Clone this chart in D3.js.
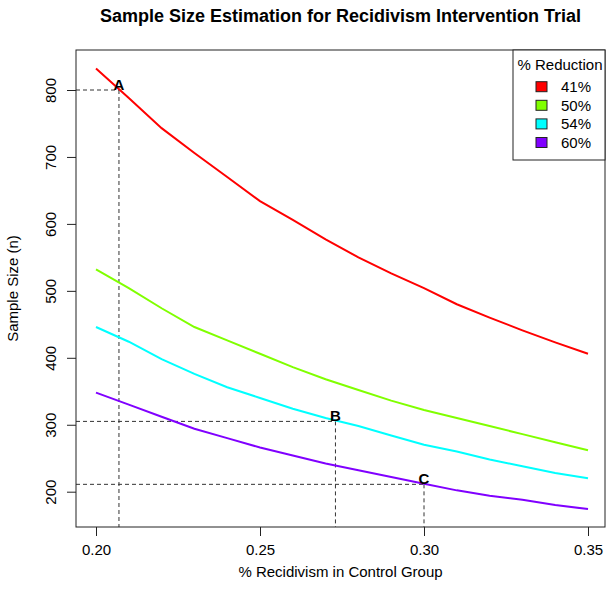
<!DOCTYPE html>
<html>
<head>
<meta charset="utf-8">
<script src="https://cdn.jsdelivr.net/npm/d3@7"></script>
<style>
  body { margin: 0; background: #fff; }
  text { font-family: "Liberation Sans", Arial, Helvetica, sans-serif; fill: #000; }
</style>
</head>
<body>
<div id="graphContainer"></div>
<script>
// recidivism in control group
const recidivism = [0.20, 0.21, 0.22, 0.23, 0.24, 0.25, 0.26, 0.27, 0.28, 0.29, 0.30, 0.31, 0.32, 0.33, 0.34, 0.35];
// sample size per % reduction
const red41 = [832, 788, 743, 706, 670, 634, 606, 577, 550, 526, 504, 480, 460, 441, 423, 406];
const red50 = [532, 504, 474, 446, 426, 406, 386, 368, 352, 336, 322, 310, 298, 286, 274, 262];
const red54 = [446, 424, 398, 376, 356, 340, 324, 310, 298, 284, 270, 260, 248, 238, 228, 220];
const red60 = [348, 330, 312, 294, 280, 266, 254, 242, 232, 222, 212, 202, 194, 188, 180, 174];
const seriesNames = ["41%", "50%", "54%", "60%"];
const seriesColors = ["#FF0000", "#80FF00", "#00FFFF", "#8000FF"];
const xTicks = [0.20, 0.25, 0.30, 0.35];
const yTicks = [200, 300, 400, 500, 600, 700, 800];
// reference points
const markLabels = ["A", "B", "C"];
const markX = [0.207, 0.273, 0.30];
const markY = [800, 305, 211];

const width = 614, height = 606;
const box = { left: 76, right: 605, top: 50, bottom: 527 };
const fontSize = "15px";

const svg = d3.select("#graphContainer")
  .append("svg")
  .attr("width", width)
  .attr("height", height);

const x = d3.scaleLinear().domain([0.20, 0.35]).range([96, 588]);
const y = d3.scaleLinear().domain([200, 800]).range([491.7, 90]);

const dataReady = [red41, red50, red54, red60].map((vals, i) => ({
  name: seriesNames[i],
  color: seriesColors[i],
  values: vals.map((v, j) => ({ p: recidivism[j], n: v }))
}));

// title
svg.append("text")
  .attr("x", (box.left + box.right) / 2)
  .attr("y", 22)
  .attr("text-anchor", "middle")
  .style("font-size", "18px")
  .style("font-weight", "bold")
  .text("Sample Size Estimation for Recidivism Intervention Trial");

// x axis ticks
svg.append("g")
  .attr("transform", "translate(0," + box.bottom + ")")
  .call(d3.axisBottom(x).tickValues(xTicks).tickFormat(d3.format(".2f")).tickSize(9).tickPadding(8))
  .call(g => g.select(".domain").remove())
  .call(g => g.selectAll("line").attr("stroke", "#222"))
  .call(g => g.selectAll("text").style("font-size", fontSize).style("font-family", "Liberation Sans, Arial, sans-serif"));

// y axis ticks, labels rotated
const yAxis = svg.append("g")
  .attr("transform", "translate(" + box.left + ",0)")
  .call(d3.axisLeft(y).tickValues(yTicks).tickSize(9))
  .call(g => g.select(".domain").remove())
  .call(g => g.selectAll("line").attr("stroke", "#222"));
yAxis.selectAll("text")
  .attr("x", null).attr("dy", null)
  .attr("text-anchor", "middle")
  .attr("transform", "translate(-20.5,0) rotate(-90)")
  .style("font-size", fontSize)
  .style("font-family", "Liberation Sans, Arial, sans-serif");

// axis titles
svg.append("text")
  .attr("x", (box.left + box.right) / 2)
  .attr("y", 577)
  .attr("text-anchor", "middle")
  .style("font-size", fontSize)
  .text("% Recidivism in Control Group");
svg.append("text")
  .attr("transform", "translate(18," + (box.top + box.bottom) / 2 + ") rotate(-90)")
  .attr("text-anchor", "middle")
  .style("font-size", fontSize)
  .text("Sample Size (n)");

// dashed guide lines for A, B, C
markLabels.forEach((lab, i) => {
  svg.append("line")
    .attr("x1", box.left).attr("x2", x(markX[i]))
    .attr("y1", y(markY[i])).attr("y2", y(markY[i]))
    .attr("stroke", "#333").attr("stroke-width", 1)
    .attr("stroke-dasharray", "4,3");
  svg.append("line")
    .attr("x1", x(markX[i])).attr("x2", x(markX[i]))
    .attr("y1", y(markY[i])).attr("y2", box.bottom)
    .attr("stroke", "#333").attr("stroke-width", 1)
    .attr("stroke-dasharray", "4,3");
});

// the lines
const line = d3.line()
  .x(d => x(d.p))
  .y(d => y(d.n));
svg.selectAll("myLines")
  .data(dataReady)
  .enter()
  .append("path")
    .attr("d", d => line(d.values))
    .attr("stroke", d => d.color)
    .style("stroke-width", 2)
    .style("fill", "none");

// point labels
svg.selectAll("myMarks")
  .data(markLabels)
  .enter()
  .append("text")
    .attr("x", (d, i) => x(markX[i]))
    .attr("y", (d, i) => y(markY[i]))
    .attr("text-anchor", "middle")
    .style("font-size", "15px")
    .style("font-weight", "bold")
    .text(d => d);

// plot box
svg.append("rect")
  .attr("x", box.left).attr("y", box.top)
  .attr("width", box.right - box.left)
  .attr("height", box.bottom - box.top)
  .attr("fill", "none")
  .attr("stroke", "#222");

// legend
const legend = svg.append("g");
legend.append("rect")
  .attr("x", 513).attr("y", box.top)
  .attr("width", box.right - 513).attr("height", 110)
  .attr("fill", "#fff")
  .attr("stroke", "#222");
legend.append("text")
  .attr("x", 560).attr("y", 70)
  .attr("text-anchor", "middle")
  .style("font-size", fontSize)
  .text("% Reduction");
const items = legend.selectAll("myLegend")
  .data(dataReady)
  .enter()
  .append("g")
  .attr("transform", (d, i) => "translate(0," + (86.7 + i * 18.6) + ")");
items.append("rect")
  .attr("x", 536).attr("y", -5)
  .attr("width", 11).attr("height", 10)
  .attr("fill", d => d.color)
  .attr("stroke", "#222");
items.append("text")
  .attr("x", 561).attr("y", 5.3)
  .style("font-size", fontSize)
  .text(d => d.name);
</script>
</body>
</html>
